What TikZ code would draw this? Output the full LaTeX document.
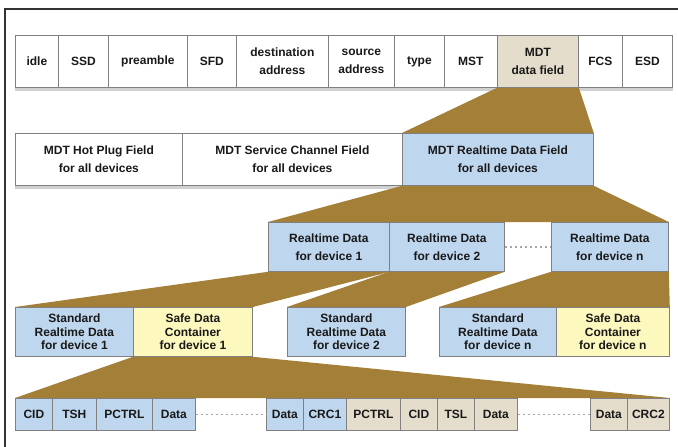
\documentclass[tikz,border=0pt]{standalone}
\usepackage{fontspec}
\setmainfont{Liberation Sans}
\usetikzlibrary{backgrounds}
\definecolor{rtblue}{RGB}{190,215,239}
\definecolor{safeyellow}{RGB}{253,248,189}
\definecolor{mdtbeige}{RGB}{228,221,204}
\definecolor{zoombrown}{RGB}{164,127,56}
% one field of a frame: [options]{name}{fill}{x1}{x2}{y1}{y2}{text}
\newcommand\fieldbox[8][]{
  \node[fld, #1, fill=#3, minimum width={(#5-#4)*1pt}, minimum height={(#7-#6)*1pt}] (#2) at (#4,#6) {#8};
}

\begin{document}
\begin{tikzpicture}[x=1pt, y=-1pt,
    fld/.style={draw=black!50, line width=0.8pt, inner sep=0pt, anchor=north west, align=center,
      text=black!90, font=\fontsize{12}{18}\selectfont\bfseries},
    tight/.style={font=\fontsize{12}{13.5}\selectfont\bfseries},
    zoom/.style={fill=zoombrown},
    shade/.style={fill=black!18},
    gap/.style={draw=black!35, line width=1.3pt, dash pattern=on 2.5pt off 2.5pt}]
  \begin{scope}[on background layer]
    \fill[white] (0,0) rectangle (678,447);
  \end{scope}
  \useasboundingbox (0,0) rectangle (678,447);
  \draw[black!80, line width=1.5pt] (5,447) -- (5,9) -- (678,9);

  % Ethernet frame
  \foreach \nm/\xa/\xb/\fc/\txt in {idle/15/58/white/idle, ssd/58/108/white/SSD,
      pre/108/187/white/preamble, sfd/187/236/white/SFD, dst/236/328/white/{destination\\address},
      src/328/394/white/{source\\address}, type/394/444/white/type, mst/444/497/white/MST,
      mdt/497/578/mdtbeige/{MDT\\data field}, fcs/578/622/white/FCS, esd/622/672/white/ESD}
    {\fieldbox{\nm}{\fc}{\xa}{\xb}{35}{87}{\txt}}

  % MDT data field
  \fieldbox{hpf}{white}{15}{182}{133}{185}{MDT Hot Plug Field\\for all devices}
  \fieldbox{scf}{white}{182}{402}{133}{185}{MDT Service Channel Field\\for all devices}
  \fieldbox{rtf}{rtblue}{402}{593}{133}{185}{MDT Realtime Data Field\\for all devices}

  % realtime data per device
  \fieldbox{rd1}{rtblue}{268}{389}{222}{271}{Realtime Data\\for device 1}
  \fieldbox{rd2}{rtblue}{389}{504}{222}{271}{Realtime Data\\for device 2}
  \fieldbox{rdn}{rtblue}{551}{668}{222}{271}{Realtime Data\\for device n}
  \draw[gap] (rd2) -- (rdn);

  \fieldbox[tight]{std1}{rtblue}{15}{133}{307}{356}{Standard\\Realtime Data\\for device 1}
  \fieldbox[tight]{sdc1}{safeyellow}{133}{252}{307}{356}{Safe Data\\Container\\for device 1}
  \fieldbox[tight]{std2}{rtblue}{287}{405}{307}{356}{Standard\\Realtime Data\\for device 2}
  \fieldbox[tight]{stdn}{rtblue}{439}{556}{307}{356}{Standard\\Realtime Data\\for device n}
  \fieldbox[tight]{sdcn}{safeyellow}{556}{669}{307}{356}{Safe Data\\Container\\for device n}

  % safe data container
  \foreach \nm/\xa/\xb/\fc/\txt in {cida/15/52/rtblue/CID, tsh/52/96/rtblue/TSH,
      pctrla/96/152/rtblue/PCTRL, dataa/152/195/rtblue/Data, datab/266/303/rtblue/Data,
      crca/303/346/rtblue/CRC1, pctrlb/346/400/mdtbeige/PCTRL, cidb/400/437/mdtbeige/CID,
      tsl/437/474/mdtbeige/TSL, datac/474/517/mdtbeige/Data, datad/590/627/mdtbeige/Data,
      crcb/627/669/mdtbeige/CRC2}
    {\fieldbox{\nm}{\fc}{\xa}{\xb}{398}{430}{\txt}}
  \draw[gap] (dataa) -- (datab);
  \draw[gap] (datac) -- (datad);

  % zoom wedges
  \begin{scope}[on background layer]
    \fill[shade] ([yshift=-3pt]idle.south west) rectangle (esd.south east);
    \fill[shade] ([yshift=-3pt]hpf.south west) rectangle (rtf.south east);
    \fill[zoom] (mdt.south west) -- (mdt.south east) -- (rtf.north east) -- (rtf.north west) -- cycle;
    \fill[zoom] (rtf.south west) -- (rtf.south east) -- (rdn.north east) -- (rd1.north west) -- cycle;
    \fill[zoom] (rd1.south west) -- (rd1.south east) -- (sdc1.north east) -- (std1.north west) -- cycle;
    \fill[zoom] (rd2.south west) -- (rd2.south east) -- (std2.north east) -- (std2.north west) -- cycle;
    \fill[zoom] (rdn.south west) -- (rdn.south east) -- (sdcn.north east) -- (stdn.north west) -- cycle;
    \fill[zoom] (sdc1.south west) -- (sdc1.south east) -- (crcb.north east) -- (cida.north west) -- cycle;
  \end{scope}
\end{tikzpicture}
\end{document}
